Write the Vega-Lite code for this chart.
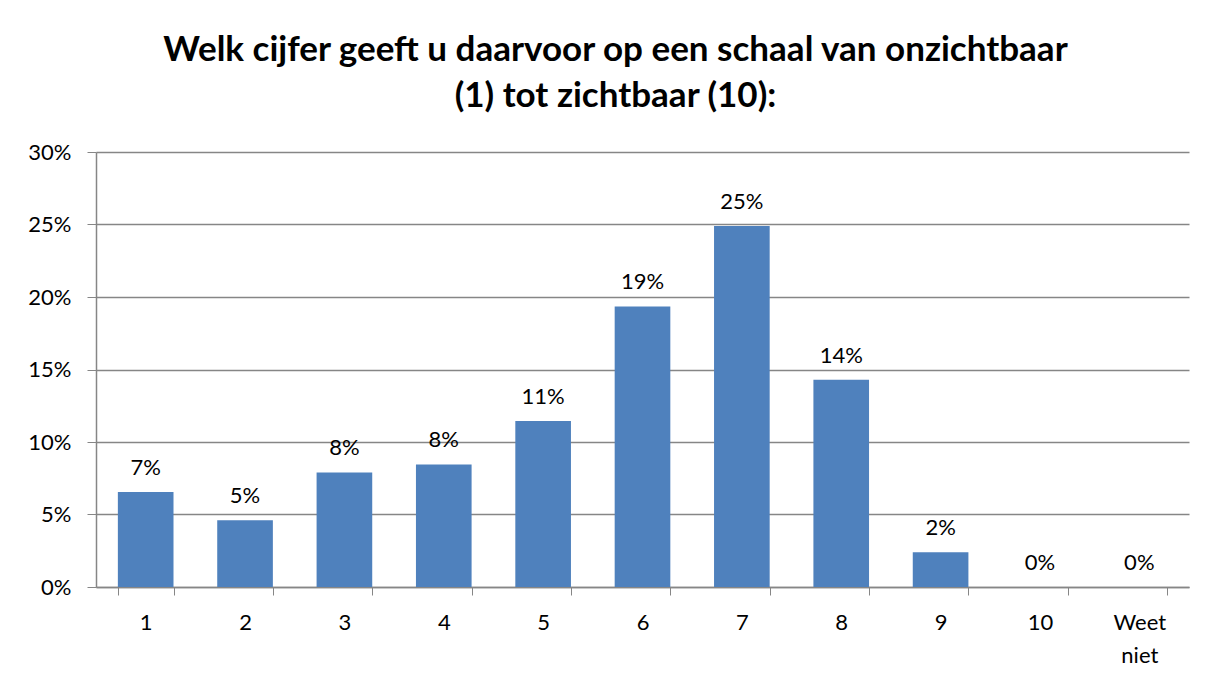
{
  "$schema": "https://vega.github.io/schema/vega-lite/v6.json",
  "autosize": {"type": "none"},
  "width": 1093,
  "height": 435,
  "padding": {"left": 96, "top": 152, "right": 23, "bottom": 95},
  "background": "white",
  "title": {
    "text": ["Welk cijfer geeft u daarvoor op een schaal van onzichtbaar", "(1) tot zichtbaar (10):"],
    "font": "Lato",
    "fontSize": 35,
    "fontWeight": "bold",
    "color": "black",
    "anchor": "middle",
    "lineHeight": 46,
    "offset": 27,
    "dx": -27
  },
  "data": {
    "values": [
      {"cijfer": "1", "pct": 0.0655},
      {"cijfer": "2", "pct": 0.046},
      {"cijfer": "3", "pct": 0.079},
      {"cijfer": "4", "pct": 0.0845},
      {"cijfer": "5", "pct": 0.1145},
      {"cijfer": "6", "pct": 0.1935},
      {"cijfer": "7", "pct": 0.249},
      {"cijfer": "8", "pct": 0.143},
      {"cijfer": "9", "pct": 0.024},
      {"cijfer": "10", "pct": 0},
      {"cijfer": "Weet niet", "pct": 0}
    ]
  },
  "encoding": {
    "x": {
      "field": "cijfer",
      "type": "nominal",
      "sort": null,
      "title": null,
      "scale": {"paddingInner": 0.44, "paddingOuter": 0.22},
      "axis": {
        "labelAngle": 0,
        "labelFont": "Lato",
        "labelFontSize": 22,
        "labelColor": "black",
        "labelPadding": 17,
        "labelLineHeight": 33,
        "labelExpr": "datum.value == 'Weet niet' ? ['Weet', 'niet'] : datum.value",
        "tickBand": "extent",
        "tickSize": 8,
        "tickColor": "#868686",
        "domainColor": "#868686",
        "domainWidth": 1.5,
        "grid": false
      }
    },
    "y": {
      "field": "pct",
      "type": "quantitative",
      "title": null,
      "scale": {"domain": [0, 0.3], "nice": false},
      "axis": {
        "values": [0, 0.05, 0.1, 0.15, 0.2, 0.25, 0.3],
        "format": ".0%",
        "labelFont": "Lato",
        "labelFontSize": 22,
        "labelColor": "black",
        "labelPadding": 16,
        "tickSize": 9,
        "tickColor": "#868686",
        "domainColor": "#868686",
        "domainWidth": 1.5,
        "grid": true,
        "gridColor": "#868686",
        "gridWidth": 1.5
      }
    }
  },
  "layer": [
    {"mark": {"type": "bar", "color": "#4F81BD"}},
    {
      "mark": {"type": "text", "font": "Lato", "fontSize": 22, "color": "black", "baseline": "alphabetic", "dy": -17},
      "encoding": {"text": {"field": "pct", "type": "quantitative", "format": ".0%"}}
    }
  ],
  "config": {"view": {"stroke": null}}
}
